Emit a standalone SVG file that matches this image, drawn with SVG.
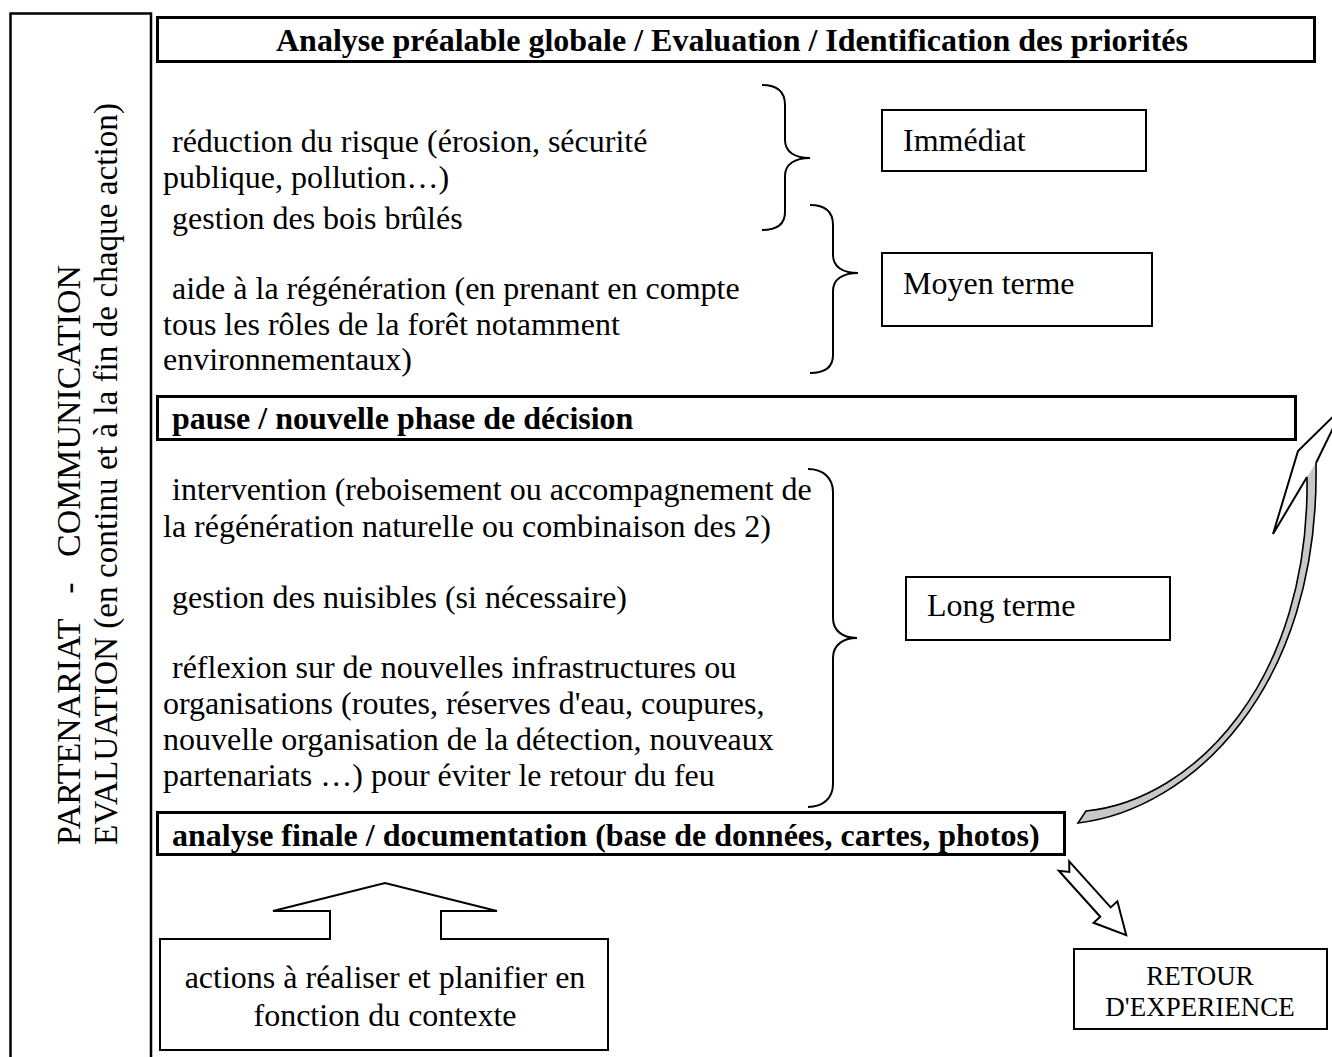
<svg xmlns="http://www.w3.org/2000/svg" width="1332" height="1057" viewBox="0 0 1332 1057">
<style>
  text { font-family: "Liberation Serif", "Times New Roman", serif; fill: #000; }
  .t { font-size: 32px; }
  .b { font-size: 32px; font-weight: bold; }
  .v { font-size: 33px; }
  .small { font-size: 27px; }
  .box { fill: #fff; stroke: #000; stroke-width: 2; }
  .bar { fill: #fff; stroke: #000; stroke-width: 3; }
  .brace { fill: none; stroke: #000; stroke-width: 2; }
  .arrow { fill: #fff; stroke: #000; stroke-width: 2; stroke-linejoin: miter; }
</style>

<g id="side">
  <path d="M10.5,1060 L10.5,13.5 L151,13.5 L151,1060" fill="none" stroke="#000" stroke-width="2.5"/>
  <text class="v" transform="translate(80,845) rotate(-90)" xml:space="preserve" textLength="580" lengthAdjust="spacingAndGlyphs">PARTENARIAT   -   COMMUNICATION</text>
  <text class="v" transform="translate(117,845) rotate(-90)" textLength="742" lengthAdjust="spacingAndGlyphs">EVALUATION (en continu et à la fin de chaque action)</text>
</g>

<g id="analyse-prealable">
  <rect class="bar" x="157.5" y="17.5" width="1157" height="44"/>
  <text class="b" x="732" y="51" text-anchor="middle">Analyse préalable globale / Evaluation / Identification des priorités</text>
</g>

<g id="actions-court">
  <text class="t" x="172" y="152">réduction du risque (érosion, sécurité</text>
  <text class="t" x="163" y="188">publique, pollution…)</text>
  <text class="t" x="172" y="229">gestion des bois brûlés</text>
  <text class="t" x="172" y="299">aide à la régénération (en prenant en compte</text>
  <text class="t" x="163" y="335">tous les rôles de la forêt notamment</text>
  <text class="t" x="163" y="370">environnementaux)</text>
</g>

<g id="immediat">
  <rect class="box" x="882" y="110" width="264" height="61"/>
  <text class="t" x="903" y="151">Immédiat</text>
</g>

<g id="moyen-terme">
  <rect class="box" x="882" y="253" width="270" height="73"/>
  <text class="t" x="903" y="294">Moyen terme</text>
</g>

<g id="pause">
  <rect class="bar" x="157.5" y="396.5" width="1138" height="43"/>
  <text class="b" x="172" y="429">pause / nouvelle phase de décision</text>
</g>

<g id="actions-long">
  <text class="t" x="172" y="500">intervention (reboisement ou accompagnement de</text>
  <text class="t" x="163" y="537">la régénération naturelle ou combinaison des 2)</text>
  <text class="t" x="172" y="608">gestion des nuisibles (si nécessaire)</text>
  <text class="t" x="172" y="678">réflexion sur de nouvelles infrastructures ou</text>
  <text class="t" x="163" y="714">organisations (routes, réserves d'eau, coupures,</text>
  <text class="t" x="163" y="750">nouvelle organisation de la détection, nouveaux</text>
  <text class="t" x="163" y="786">partenariats …) pour éviter le retour du feu</text>
</g>

<g id="long-terme">
  <rect class="box" x="906" y="577" width="264" height="63"/>
  <text class="t" x="927" y="616">Long terme</text>
</g>

<g id="analyse-finale">
  <rect class="bar" x="157.5" y="812.5" width="907" height="42"/>
  <text class="b" x="172" y="846">analyse finale / documentation (base de données, cartes, photos)</text>
</g>

<g id="actions-contexte">
  <path class="arrow" d="M160,939 L330,939 L330,911 L273,911 L385,883 L497,911 L441,911 L441,939 L608,939 L608,1050 L160,1050 Z"/>
  <text class="t" x="385" y="988" text-anchor="middle">actions à réaliser et planifier en</text>
  <text class="t" x="385" y="1026" text-anchor="middle">fonction du contexte</text>
</g>

<g id="retour-experience">
  <rect class="box" x="1074" y="949" width="253" height="80"/>
  <text class="small" x="1200" y="985" text-anchor="middle">RETOUR</text>
  <text class="small" x="1200" y="1016" text-anchor="middle">D'EXPERIENCE</text>
</g>

<g id="connectors">
  <path class="brace" d="M762,85 C777,85 785,92 785,105 L785,140 C785,152 795,158 810,158 C795,158 785,164 785,176 L785,212 C785,224 777,230 762,230"/>
  <path class="brace" d="M810,205 C825,205 833,212 833,225 L833,255 C833,267 843,273 858,273 C843,273 833,279 833,291 L833,355 C833,367 825,373 810,373"/>
  <path class="brace" d="M808,469 C823,469 833,478 833,492 L833,618 C833,631 843,638 857,638 C843,638 833,645 833,658 L833,784 C833,798 823,807 808,807"/>
  <g transform="translate(1064,866) rotate(48)">
    <polygon class="arrow" points="0,-7 62,-7 62,-16 93,0 62,16 62,7 0,7 8,0"/>
  </g>
  <path d="M1345,405 L1298,451 L1273,534 L1307,477 L1316,463 L1340,414 Z" fill="#fff" stroke="none"/>
  <polyline points="1345,405 1298,451 1273,534 1307,477" fill="none" stroke="#000" stroke-width="2" stroke-linejoin="miter"/>
  <polyline points="1316,463 1340,414" fill="none" stroke="#000" stroke-width="2"/>
  <path d="M1307,477 C1310,680 1195,800 1086,811 L1078,823 C1190,810 1320,690 1316,463" fill="#c8c8c8" stroke="#000" stroke-width="1.6"/>
</g>
</svg>
